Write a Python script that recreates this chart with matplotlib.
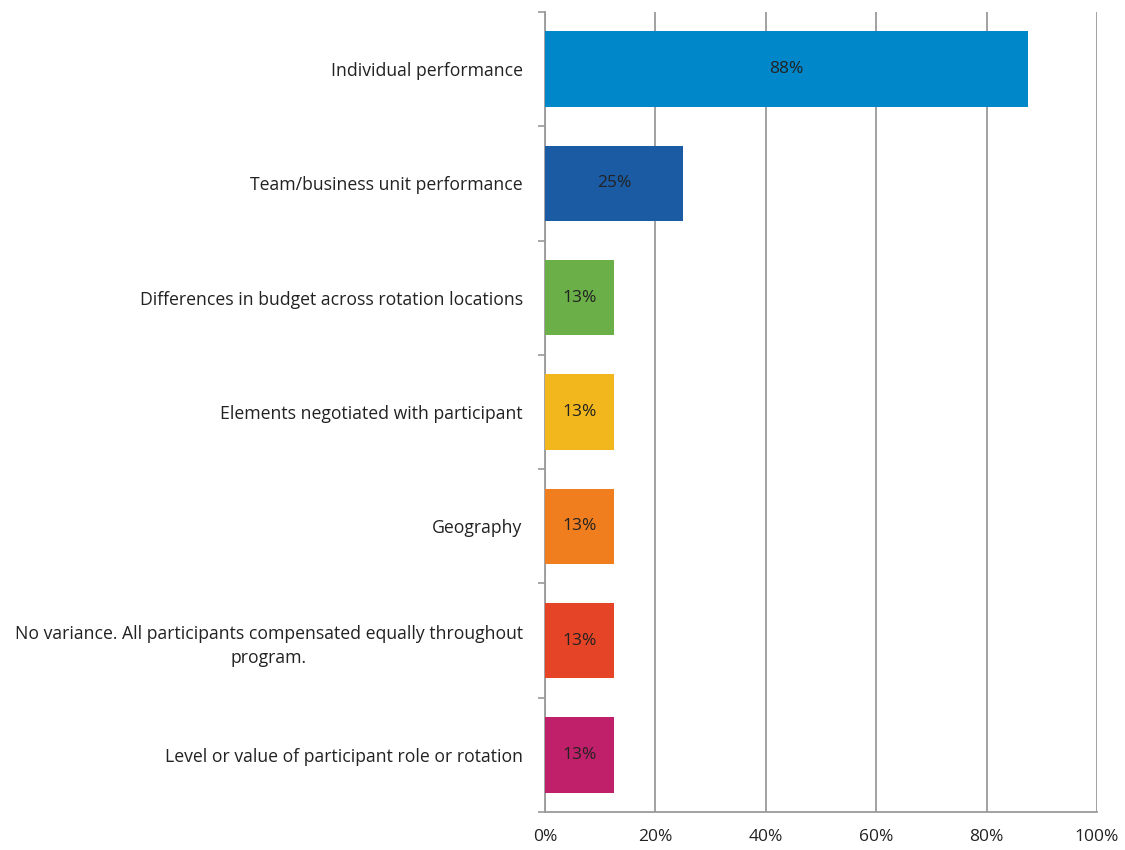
import numpy as np
import matplotlib.pyplot as plt

categories = ['Individual performance',
              'Team/business unit performance',
              'Differences in budget across rotation locations',
              'Elements negotiated with participant',
              'Geography',
              'No variance. All participants compensated equally throughout\nprogram.',
              'Level or value of participant role or rotation']
values = [87.5, 25.0, 12.5, 12.5, 12.5, 12.5, 12.5]
value_labels = ['88%', '25%', '13%', '13%', '13%', '13%', '13%']
colors = ['#0087C9', '#1A5BA3', '#6AAF47', '#F1B71C', '#F07E1F', '#E54426', '#C0206A']
xticks = [0, 20, 40, 60, 80, 100]

plt.rcParams['font.family'] = ['Open Sans', 'DejaVu Sans']

fig = plt.figure(figsize=(11.25, 8.5), dpi=100)
ax = fig.add_axes([0.4844, 0.0447, 0.4907, 0.9412])

n = len(categories)
y = np.arange(n)
ax.barh(y, values, height=0.66, color=colors, zorder=3)
for yi, v, lab in zip(y, values, value_labels):
    ax.text(v / 2, yi, lab, ha='center', va='center', fontsize=12.5, color='#222222', zorder=4)

ax.set_ylim(n - 0.5, -0.5)
ax.set_xlim(0, 100)
ax.set_xticks(xticks)
ax.set_xticklabels(['%d%%' % t for t in xticks], fontsize=12.5, color='#222222')
ax.set_yticks(y)
ax.set_yticklabels(categories, fontsize=12.7, color='#222222', ha='right',
                   multialignment='center', linespacing=1.45)
ax.tick_params(axis='y', length=0, pad=16)
# boundary tick marks on the category axis
ax.set_yticks(np.arange(-0.5, n, 1), minor=True)
ax.tick_params(axis='y', which='minor', length=5, color='#999999', width=1.2)
ax.tick_params(axis='x', length=0, pad=12)

ax.grid(axis='x', color='#9a9a9a', linewidth=1.3, zorder=0)
for s in ['top', 'right']:
    ax.spines[s].set_visible(False)
for s in ['left', 'bottom']:
    ax.spines[s].set_color('#9a9a9a')
    ax.spines[s].set_linewidth(1.3)

fig.savefig('out.png', dpi=100, facecolor='white')
